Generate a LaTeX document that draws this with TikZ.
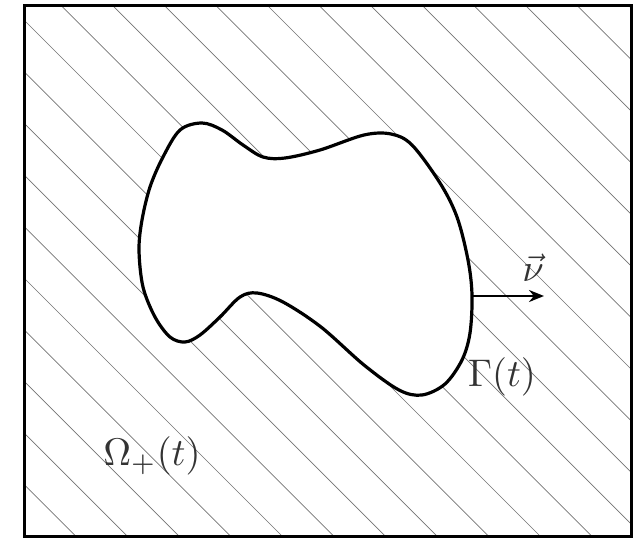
\documentclass[tikz,border=0pt]{standalone}
\usetikzlibrary{arrows.meta}
\begin{document}
\begin{tikzpicture}[x=1pt,y=-1pt,
  hatch/.style={black!55, line width=0.7pt},
  frame/.style={line width=3.4pt, black},
  blob/.style={line width=3.2pt, fill=white, line join=round},
  lbl/.style={scale=3.85, inner sep=0pt, text=black!80},
  normalarrow/.style={line width=2.4pt, -{Stealth[length=15pt,width=12pt]}}]
\useasboundingbox (0,0) rectangle (642,538);
\coordinate (tl) at (24.7,5.7);
\coordinate (br) at (631.7,536.5);
\begin{scope}
  \clip (tl) rectangle (br);
  \foreach \k in {-12,...,10} {
    \pgfmathsetmacro\ca{-4+51.6*\k}
    \pgfmathsetmacro\cb{650-4+51.6*\k}
    \draw[hatch] (0,\ca) -- (650,\cb);
  }
\end{scope}
\draw[blob] plot[smooth cycle, tension=0.55] coordinates {
  (202,123) (222,130) (243,145) (263,157) (285,158) (320,150) (364,135)
  (391,134) (412,145) (440,183) (457,217) (468,260) (472,295) (470,333)
  (462,360) (445,384) (422,395) (399,390) (364,365) (321,327)
  (283,302) (257,293) (240,297) (220,317) (200,335) (185,342) (170,337)
  (155,317) (143,287) (139,250) (142,220) (150,187) (163,157) (180,130)};
\draw[frame] (tl) rectangle (br);
\coordinate (nu0) at (472,296);
\coordinate (nu1) at (544,296);
\draw[normalarrow] (nu0) -- (nu1);
\node[lbl] (nu) at (533,268) {$\vec{\nu}$};
\node[lbl] (gamma) at (502,377) {$\Gamma(t)$};
\node[lbl] (omega) at (152,456) {$\Omega_+(t)$};
\end{tikzpicture}
\end{document}
